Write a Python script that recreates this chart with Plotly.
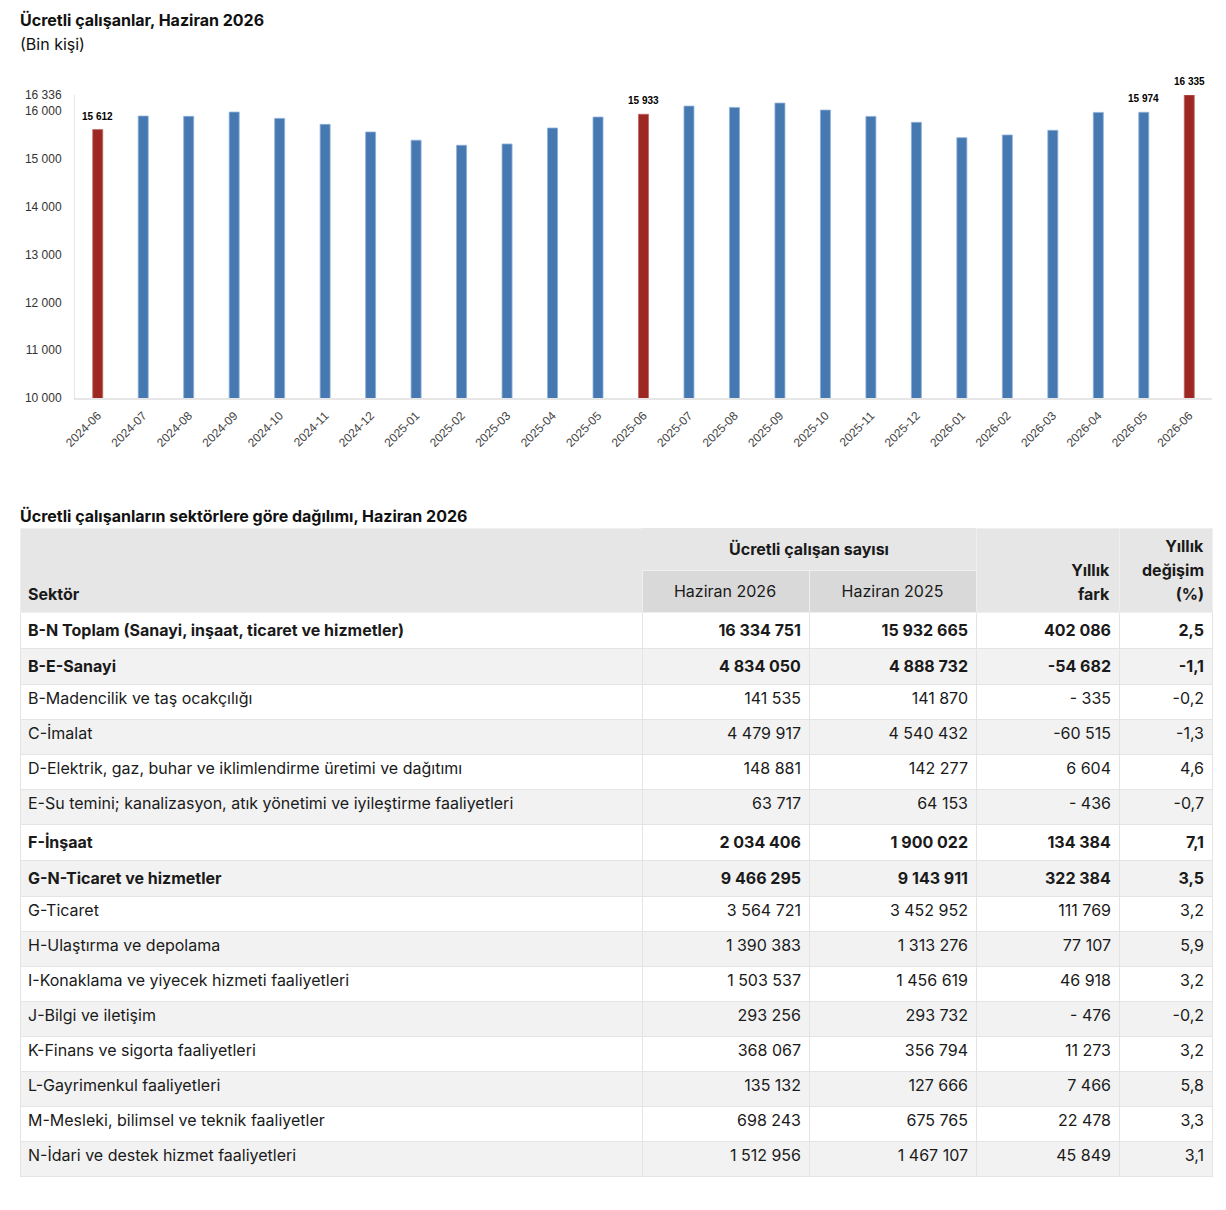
import plotly.graph_objects as go

# bar chart data (bin kişi)
months = ["2024-06", "2024-07", "2024-08", "2024-09", "2024-10", "2024-11", "2024-12",
          "2025-01", "2025-02", "2025-03", "2025-04", "2025-05", "2025-06", "2025-07",
          "2025-08", "2025-09", "2025-10", "2025-11", "2025-12", "2026-01", "2026-02",
          "2026-03", "2026-04", "2026-05", "2026-06"]
employees = [15612, 15896, 15890, 15979, 15847, 15722, 15562, 15390, 15285, 15312,
             15646, 15875, 15933, 16104, 16077, 16167, 16021, 15889, 15764, 15444,
             15500, 15597, 15972, 15974, 16335]
labelled = ["2024-06", "2025-06", "2026-05", "2026-06"]
highlight = ["2024-06", "2025-06", "2026-06"]
y_ticks = [10000, 11000, 12000, 13000, 14000, 15000, 16000, 16336]

# table data
sectors = [
    "B-N Toplam (Sanayi, inşaat, ticaret ve hizmetler)",
    "B-E-Sanayi",
    "B-Madencilik ve taş ocakçılığı",
    "C-İmalat",
    "D-Elektrik, gaz, buhar ve iklimlendirme üretimi ve dağıtımı",
    "E-Su temini; kanalizasyon, atık yönetimi ve iyileştirme faaliyetleri",
    "F-İnşaat",
    "G-N-Ticaret ve hizmetler",
    "G-Ticaret",
    "H-Ulaştırma ve depolama",
    "I-Konaklama ve yiyecek hizmeti faaliyetleri",
    "J-Bilgi ve iletişim",
    "K-Finans ve sigorta faaliyetleri",
    "L-Gayrimenkul faaliyetleri",
    "M-Mesleki, bilimsel ve teknik faaliyetler",
    "N-İdari ve destek hizmet faaliyetleri",
]
jun_2026 = [16334751, 4834050, 141535, 4479917, 148881, 63717, 2034406, 9466295,
            3564721, 1390383, 1503537, 293256, 368067, 135132, 698243, 1512956]
jun_2025 = [15932665, 4888732, 141870, 4540432, 142277, 64153, 1900022, 9143911,
            3452952, 1313276, 1456619, 293732, 356794, 127666, 675765, 1467107]
yearly_diff = [402086, -54682, -335, -60515, 6604, -436, 134384, 322384,
               111769, 77107, 46918, -476, 11273, 7466, 22478, 45849]
yearly_pct = [2.5, -1.1, -0.2, -1.3, 4.6, -0.7, 7.1, 3.5,
              3.2, 5.9, 3.2, -0.2, 3.2, 5.8, 3.3, 3.1]
bold_rows = [0, 1, 6, 7]

W, H, OFF = 1210, 1194, 8


def px2x(px):
    return (px - OFF) / W


def py2y(py):
    return 1 - (py - OFF) / H


def fmt_int(v):
    s = f"{abs(v):,}".replace(",", " ")
    if v < 0:
        return ("- " if abs(v) < 1000 else "-") + s
    return s


def fmt_pct(v):
    return f"{v:.1f}".replace(".", ",")


BLUE = "#4679b1"
RED = "#9d2723"
colors = [RED if m in highlight else BLUE for m in months]
edges = ["#c06660" if m in highlight else "#8eb0d6" for m in months]

fig = go.Figure()
fig.add_trace(go.Bar(
    x=months, y=employees, width=0.22,
    marker=dict(color=colors, line=dict(color=edges, width=0.8)),
    hoverinfo="skip",
))
for m, v in zip(months, employees):
    if m in labelled:
        fig.add_annotation(x=m, y=v, text=f"<b>{fmt_int(v)}</b>", showarrow=False,
                           yanchor="bottom", yshift=6,
                           font=dict(family="Liberation Sans", size=10, color="#000000"))

fig.update_xaxes(
    domain=[px2x(75), px2x(1212)], type="category", automargin=False,
    tickangle=-45, tickfont=dict(family="Liberation Sans", size=12, color="#444444"),
    showline=True, linecolor="#e6e6e6", linewidth=2, showgrid=False, ticks="",
    ticklabelstandoff=4,
)
fig.update_yaxes(
    domain=[py2y(398), py2y(95)], range=[10000, 16336], automargin=False,
    tickvals=y_ticks, ticktext=[fmt_int(v) for v in y_ticks],
    tickfont=dict(family="Liberation Sans", size=12, color="#333333"),
    showline=True, linecolor="#e6e6e6", linewidth=1, showgrid=False, zeroline=False,
    ticks="", ticklabelstandoff=10,
)

# table
row_fill = ["#ffffff" if i % 2 == 0 else "#f2f2f2" for i in range(len(sectors))]


def cell(txt, i):
    return f"<b>{txt}</b>" if i in bold_rows else txt


col_sector = [cell(s, i) for i, s in enumerate(sectors)]
col_26 = [cell(fmt_int(v), i) for i, v in enumerate(jun_2026)]
col_25 = [cell(fmt_int(v), i) for i, v in enumerate(jun_2025)]
col_diff = [cell(fmt_int(v), i) for i, v in enumerate(yearly_diff)]
col_pct = [cell(fmt_pct(v), i) for i, v in enumerate(yearly_pct)]

tfont = dict(family="Inter", size=16, color="#1a1a1a")
CLEAR = "rgba(0,0,0,0)"

fig.add_trace(go.Table(
    domain=dict(x=[px2x(20), px2x(1212)], y=[py2y(1190), py2y(528)]),
    columnwidth=[622, 167, 167, 143, 93],
    header=dict(values=["", "", "", "", ""], height=84, fill_color="#e6e6e6",
                line=dict(color="#efefef", width=1)),
    cells=dict(
        values=[col_sector, col_26, col_25, col_diff, col_pct],
        height=35, fill_color=[row_fill] * 5, line=dict(color="#e4e4e4", width=1),
        align=["left", "right", "right", "right", "right"], font=tfont,
    ),
))
# merged header cell over the two month columns
fig.add_trace(go.Table(
    domain=dict(x=[px2x(642), px2x(976)], y=[py2y(572), py2y(528)]),
    header=dict(values=[""], height=42, fill_color="#e6e6e6", line=dict(width=0)),
    cells=dict(values=[[]]),
))
fig.add_trace(go.Table(
    domain=dict(x=[px2x(642), px2x(976)], y=[py2y(614), py2y(570)]),
    header=dict(values=["", ""], height=42,
                fill_color="#d9d9d9", line=dict(color="#efefef", width=1)),
    cells=dict(values=[[], []]),
))


def header_label(text, x0, x1, yc, align):
    top = yc - 15
    fig.add_trace(go.Table(
        domain=dict(x=[px2x(x0), px2x(x1)], y=[py2y(top + 36), py2y(top)]),
        header=dict(values=[text], height=36, fill_color=CLEAR,
                    line=dict(color=CLEAR, width=0), align=align, font=tfont),
        cells=dict(values=[[]]),
    ))


header_label("<b>Ücretli çalışan sayısı</b>", 642, 976, 546, "center")
header_label("Haziran 2026", 642, 809, 592, "center")
header_label("Haziran 2025", 809, 976, 592, "center")
header_label("<b>Sektör</b>", 20, 642, 591, "left")
header_label("<b>Yıllık</b>", 976, 1119, 567, "right")
header_label("<b>fark</b>", 976, 1119, 591, "right")
header_label("<b>Yıllık</b>", 1119, 1212, 543, "right")
header_label("<b>değişim</b>", 1119, 1212, 567, "right")
header_label("<b>(%)</b>", 1119, 1212, 591, "right")

title_font = dict(family="Inter", color="#111111")
fig.add_annotation(x=px2x(18), y=py2y(20), xref="paper", yref="paper",
                   text="<b>Ücretli çalışanlar, Haziran 2026</b>", showarrow=False,
                   xanchor="left", yanchor="middle", font=dict(size=16, **title_font))
fig.add_annotation(x=px2x(18), y=py2y(44), xref="paper", yref="paper",
                   text="(Bin kişi)", showarrow=False,
                   xanchor="left", yanchor="middle", font=dict(size=16, **title_font))
fig.add_annotation(x=px2x(18), y=py2y(516), xref="paper", yref="paper",
                   text="<b>Ücretli çalışanların sektörlere göre dağılımı, Haziran 2026</b>",
                   showarrow=False, xanchor="left", yanchor="middle",
                   font=dict(size=16, **title_font))

fig.update_layout(
    width=W, height=H, margin=dict(l=0, r=0, t=0, b=0, autoexpand=False),
    paper_bgcolor="white", plot_bgcolor="white", showlegend=False,
    font=dict(family="Inter"),
)

fig.write_html("out.html")
